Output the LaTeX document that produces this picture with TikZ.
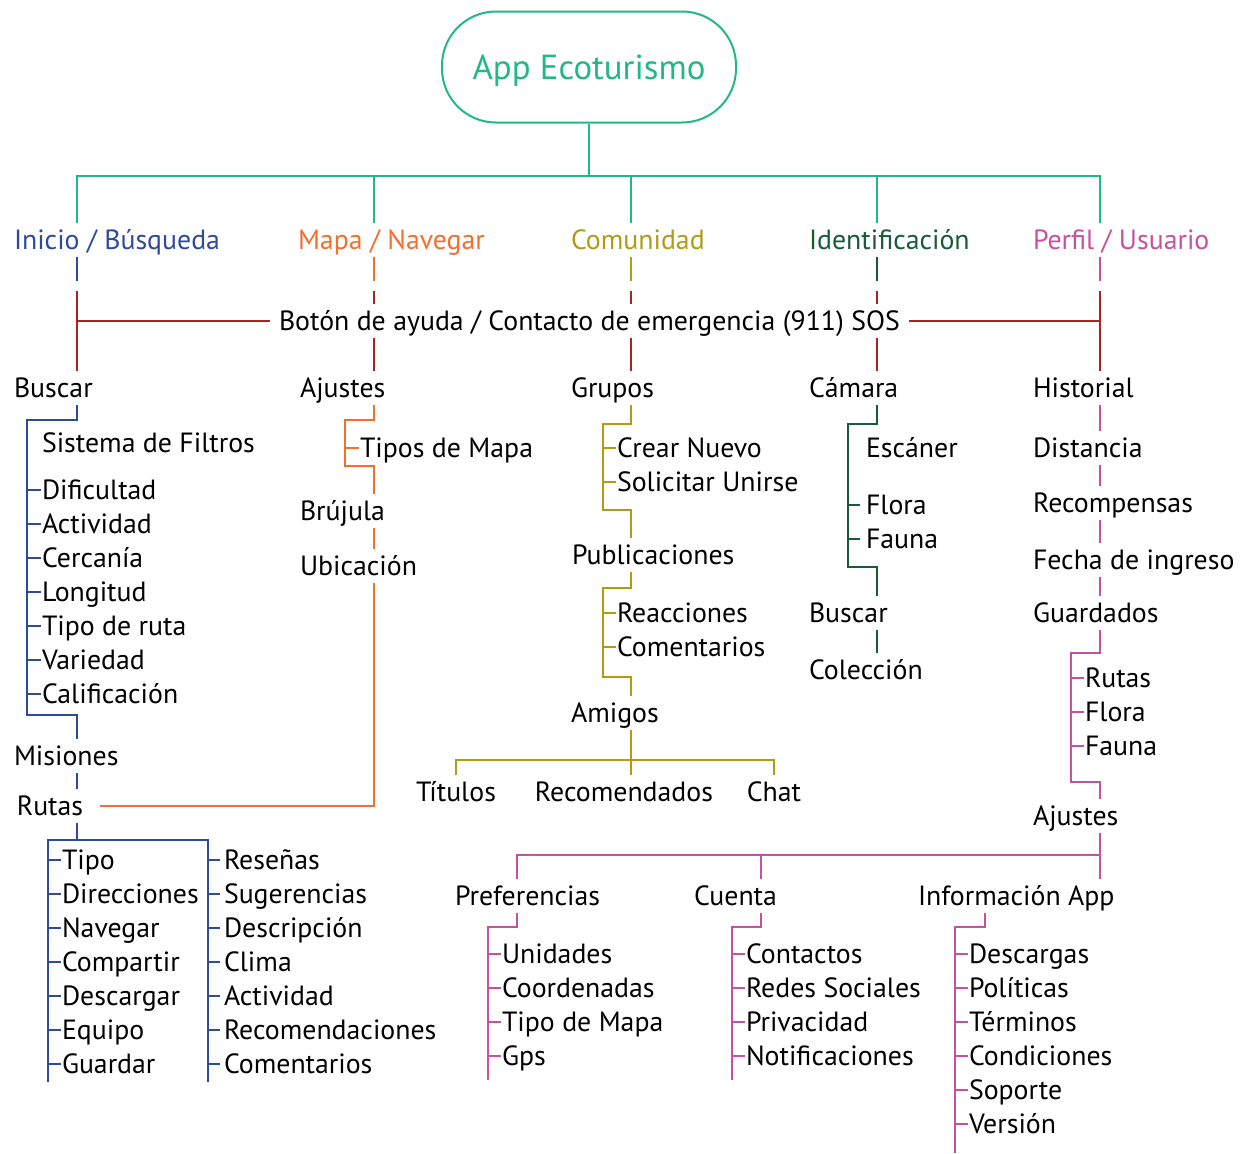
\documentclass[tikz,border=0pt]{standalone}
\usepackage{fontspec}
\setmainfont{PT Sans}
\usetikzlibrary{positioning}

\definecolor{ecogreen}{RGB}{34,184,132}
\definecolor{ecoblue}{RGB}{46,75,155}
\definecolor{ecoorange}{RGB}{242,111,48}
\definecolor{ecoolive}{RGB}{176,155,20}
\definecolor{ecodark}{RGB}{25,90,55}
\definecolor{ecopink}{RGB}{200,80,160}
\definecolor{ecored}{RGB}{168,36,30}

\tikzset{
    item/.style={anchor=west, inner xsep=0pt, inner ysep=0pt, text height=12.7pt, text depth=3pt},
    centred/.style={item, anchor=center},
}

\begin{document}
\begin{tikzpicture}[x=0.5pt, y=-0.5pt, line width=1pt, font=\fontsize{13.9}{16}\selectfont]
    \useasboundingbox (0,0) rectangle (1246,1153);

    % Spines
    \coordinate (s1) at (77,0);
    \coordinate (s2) at (374,0);
    \coordinate (s3) at (631,0);
    \coordinate (s4) at (877,0);
    \coordinate (s5) at (1100,0);
    \coordinate (bar) at (589,176);

    % ROOT
    \node[draw=ecogreen, text=ecogreen, rounded corners=27pt, minimum width=147pt, minimum height=55.5pt,
          text height=16pt, text depth=4pt, font=\fontsize{17.4}{20}\selectfont] (app) at (589,67) {App Ecoturismo};
    \draw[ecogreen] (app.south) -- (bar);

    % Categories
    \node[item, text=ecoblue] (inicio) at (13,240) {Inicio / Búsqueda};
    \node[item, text=ecoorange] (mapa) at (297,240) {Mapa / Navegar};
    \node[item, text=ecoolive] (comun) at (570,240) {Comunidad};
    \node[item, text=ecodark] (ident) at (808,240) {Identificación};
    \node[item, text=ecopink] (perfil) at (1032,240) {Perfil / Usuario};
    \draw[ecogreen] (inicio.north -| s1) -- (bar -| s1) -- (bar -| s5) -- (perfil.north -| s5);
    \foreach \c/\s in {mapa/s2, comun/s3, ident/s4}
        \draw[ecogreen] (\c.north -| \s) -- (bar -| \s);

    % Emergency bar
    \node[item, inner xsep=4pt] (boton) at (270,321) {Botón de ayuda / Contacto de emergencia (911) SOS};
    \draw[ecored] (boton.west) -- (boton.west -| s1);
    \draw[ecored] (boton.east) -- (boton.east -| s5);
    \foreach \c/\s/\col in {inicio/s1/ecoblue, mapa/s2/ecoorange, comun/s3/ecoolive, ident/s4/ecodark, perfil/s5/ecopink}
        \draw[\col] (\c.south -| \s) -- ++(0,24);

    % Second level
    \node[item] (buscarA) at (13,388) {Buscar};
    \node[item] (ajustesA) at (299,388) {Ajustes};
    \node[item] (grupos) at (570,388) {Grupos};
    \node[item] (camara) at (808,388) {Cámara};
    \node[item] (historial) at (1032,388) {Historial};
    \draw[ecored] (inicio.south -| s1) ++(0,34) -- (buscarA.north -| s1);
    \draw[ecored] (perfil.south -| s5) ++(0,34) -- (historial.north -| s5);
    \foreach \c/\s/\n in {mapa/s2/ajustesA, comun/s3/grupos, ident/s4/camara} {
        \draw[ecored] (\c.south -| \s) ++(0,34) -- (boton.north -| \s);
        \draw[ecored] (boton.south -| \s) -- (\n.north -| \s);
    }

    % Inicio / Busqueda
    \node[item] (filtros) at (41,443) {Sistema de Filtros};
    \foreach \t [count=\i] in {Dificultad, Actividad, Cercanía, Longitud, Tipo de ruta, Variedad, Calificación} {
        \node[item] (fil\i) at (41,456+34*\i) {\t};
        \draw[ecoblue] (fil\i.west) -- ++(-13,0);
    }
    \node[item] (misiones) at (13,756) {Misiones};
    \node[item] (rutas) at (16,806) {Rutas};
    \draw[ecoblue] (buscarA.south -| s1) |- (27,420) |- (77,715) -- (misiones.north -| s1);
    \draw[ecoblue] (misiones.south -| s1) -- (rutas.north -| s1);
    \draw[ecoblue] (rutas.south -| s1) |- (48,840) -- (48,1082);
    \draw[ecoblue] (77,840) -| (208,1082);
    \foreach \t [count=\i] in {Tipo, Direcciones, Navegar, Compartir, Descargar, Equipo, Guardar} {
        \node[item] (rl\i) at (61,826+34*\i) {\t};
        \draw[ecoblue] (rl\i.west) -- ++(-13,0);
    }
    \foreach \t [count=\i] in {Reseñas, Sugerencias, Descripción, Clima, Actividad, Recomendaciones, Comentarios} {
        \node[item] (rr\i) at (223,826+34*\i) {\t};
        \draw[ecoblue] ([xshift=-1.5pt]rr\i.west) -- ++(-12,0);
    }

    % Mapa / Navegar
    \node[item] (tipos) at (359,448) {Tipos de Mapa};
    \node[item] (brujula) at (299,511) {Brújula};
    \node[item] (ubic) at (299,566) {Ubicación};
    \draw[ecoorange] (ajustesA.south -| s2) |- (345,420) |- (374,466) -- (brujula.north -| s2);
    \draw[ecoorange] (tipos.west) -- ++(-14,0);
    \draw[ecoorange] (brujula.south -| s2) -- (ubic.north -| s2);
    \draw[ecoorange] ([xshift=8pt]rutas.east) -| (ubic.south -| s2);

    % Comunidad
    \node[item] (crear) at (616,448) {Crear Nuevo};
    \node[item] (solic) at (616,482) {Solicitar Unirse};
    \node[item] (public) at (571,555) {Publicaciones};
    \node[item] (reac) at (616,613) {Reacciones};
    \node[item] (coment) at (616,647) {Comentarios};
    \node[item] (amigos) at (570,713) {Amigos};
    \node[centred] (titulos) at (456,792) {Títulos};
    \node[centred] (recom) at (624,792) {Recomendados};
    \node[centred] (chat) at (774,792) {Chat};
    \draw[ecoolive] (grupos.south -| s3) |- (603,424) |- (631,510) -- (public.north -| s3);
    \draw[ecoolive] (public.south -| s3) |- (603,588) |- (631,677) -- (amigos.north -| s3);
    \foreach \n in {crear, solic, reac, coment}
        \draw[ecoolive] (\n.west) -- ++(-13,0);
    \draw[ecoolive] (amigos.south -| s3) -- (recom.north -| s3);
    \draw[ecoolive] (titulos.north) -- ++(0,-15) -| (chat.north);

    % Identificacion
    \node[item] (escaner) at (865,448) {Escáner};
    \node[item] (floraI) at (865,505) {Flora};
    \node[item] (faunaI) at (865,539) {Fauna};
    \node[item] (buscarI) at (808,613) {Buscar};
    \node[item] (colec) at (808,670) {Colección};
    \draw[ecodark] (camara.south -| s4) |- (848,424) |- (877,567) -- (buscarI.north -| s4);
    \foreach \n in {floraI, faunaI}
        \draw[ecodark] ([xshift=-2.5pt]\n.west) -- ++(-12,0);
    \draw[ecodark] (buscarI.south -| s4) -- (colec.north -| s4);

    % Perfil / Usuario
    \node[item] (dist) at (1032,448) {Distancia};
    \node[item] (recomp) at (1032,503) {Recompensas};
    \node[item] (fecha) at (1032,560) {Fecha de ingreso};
    \node[item] (guard) at (1032,613) {Guardados};
    \node[item] (rutasP) at (1084,678) {Rutas};
    \node[item] (floraP) at (1084,712) {Flora};
    \node[item] (faunaP) at (1084,746) {Fauna};
    \node[item] (ajustesP) at (1032,816) {Ajustes};
    \foreach \a/\b in {historial/dist, dist/recomp, recomp/fecha, fecha/guard}
        \draw[ecopink] (\a.south -| s5) -- (\b.north -| s5);
    \draw[ecopink] (guard.south -| s5) |- (1071,653) |- (1100,782) -- (ajustesP.north -| s5);
    \foreach \n in {rutasP, floraP, faunaP}
        \draw[ecopink] (\n.west) -- ++(-13,0);

    % Ajustes (perfil)
    \coordinate (p1) at (517,0);
    \coordinate (p2) at (761,0);
    \coordinate (p3) at (985,0);
    \node[item] (pref) at (454,896) {Preferencias};
    \node[item] (cuenta) at (693,896) {Cuenta};
    \node[item] (infoA) at (917,896) {Información App};
    \draw[ecopink] (ajustesP.south -| s5) -- (infoA.north -| s5);
    \draw[ecopink] (s5 |- 0,855) -| (pref.north -| p1);
    \draw[ecopink] (p2 |- 0,855) -- (cuenta.north -| p2);
    \draw[ecopink] (pref.south -| p1) |- (488,927) -- (488,1080);
    \draw[ecopink] (cuenta.south -| p2) |- (732,927) -- (732,1080);
    \draw[ecopink] (infoA.south -| p3) |- (955,927) -- (955,1153);
    \foreach \t [count=\i] in {Unidades, Coordenadas, Tipo de Mapa, Gps} {
        \node[item] (pu\i) at (501,920+34*\i) {\t};
        \draw[ecopink] (pu\i.west) -- ++(-13,0);
    }
    \foreach \t [count=\i] in {Contactos, Redes Sociales, Privacidad, Notificaciones} {
        \node[item] (cu\i) at (745,920+34*\i) {\t};
        \draw[ecopink] (cu\i.west) -- ++(-13,0);
    }
    \foreach \t [count=\i] in {Descargas, Políticas, Términos, Condiciones, Soporte, Versión} {
        \node[item] (in\i) at (968,920+34*\i) {\t};
        \draw[ecopink] (in\i.west) -- ++(-13,0);
    }
\end{tikzpicture}
\end{document}
